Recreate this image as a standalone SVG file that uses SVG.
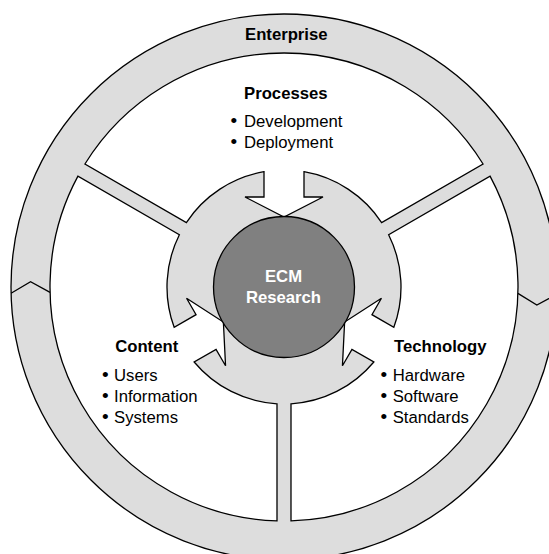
<svg xmlns="http://www.w3.org/2000/svg" xmlns:xlink="http://www.w3.org/1999/xlink" width="549" height="554" viewBox="0 0 549 554">
  <style>
    .shape { stroke: #000; stroke-width: 1.3; stroke-linejoin: miter; }
    .gray { fill: #DDDDDD; }
    .white { fill: #FFFFFF; }
    .core { fill: #808080; }
    .line { fill: none; stroke: #000; stroke-width: 1.3; }
    text { font-family: "Liberation Sans", Arial, sans-serif; font-size: 16.7px; fill: #000; }
    .title { font-weight: bold; text-anchor: middle; }
    .core-label { font-weight: bold; text-anchor: middle; fill: #FFFFFF; }
    .bullet { font-size: 19px; }
  </style>
  <defs>
    <path id="sector" d="M -199.06,-123.01 A 234 234 0 0 1 199.06,-123.01 L 97.64,-64.46 A 117 117 0 0 0 20,-115.28 L 20,-90 L 39,-90 L 0,-70 L -39,-90 L -20,-90 L -20,-115.28 A 117 117 0 0 0 -97.64,-64.46 Z"/>
  </defs>

  <g id="enterprise">
    <circle class="shape gray" cx="284" cy="287" r="273"/>
    <g transform="translate(284,287)">
      <polyline class="line" points="-272.93,6.19 -253.44,-5.31 -233.94,5.31"/>
      <polyline class="line" points="233.91,6.33 252.85,18.12 272.9,7.38"/>
    </g>
    <text class="title" x="286.3" y="40">Enterprise</text>
  </g>

  <g id="connectors"></g>

  <g id="processes">
    <use xlink:href="#sector" href="#sector" class="shape white" transform="translate(284,287)"/>
    <text class="title" x="285.8" y="99">Processes</text>
    <text y="127"><tspan class="bullet" x="230.5">•</tspan><tspan x="244">Development</tspan></text>
    <text y="148"><tspan class="bullet" x="230.5">•</tspan><tspan x="244">Deployment</tspan></text>
  </g>

  <g id="technology">
    <use xlink:href="#sector" href="#sector" class="shape white" transform="translate(284,287) rotate(120)"/>
    <text class="title" x="440.3" y="352">Technology</text>
    <text y="381"><tspan class="bullet" x="380.5">•</tspan><tspan x="392.7">Hardware</tspan></text>
    <text y="402"><tspan class="bullet" x="380.5">•</tspan><tspan x="392.7">Software</tspan></text>
    <text y="423"><tspan class="bullet" x="380.5">•</tspan><tspan x="392.7">Standards</tspan></text>
  </g>

  <g id="content">
    <use xlink:href="#sector" href="#sector" class="shape white" transform="translate(284,287) rotate(240)"/>
    <text class="title" x="146.7" y="352">Content</text>
    <text y="381"><tspan class="bullet" x="102">•</tspan><tspan x="114">Users</tspan></text>
    <text y="402"><tspan class="bullet" x="102">•</tspan><tspan x="114">Information</tspan></text>
    <text y="423"><tspan class="bullet" x="102">•</tspan><tspan x="114">Systems</tspan></text>
  </g>

  <g id="ecm-research">
    <circle class="shape core" cx="284" cy="287" r="70.5"/>
    <text class="core-label" x="283.5" y="282">ECM</text>
    <text class="core-label" x="283.5" y="303">Research</text>
  </g>
</svg>
